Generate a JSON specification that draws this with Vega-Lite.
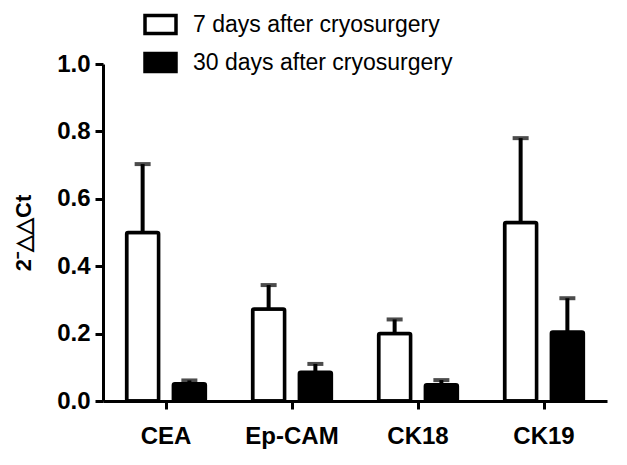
{
  "$schema": "https://vega.github.io/schema/vega-lite/v6.json",
  "width": 504,
  "height": 337,
  "autosize": {"type": "none"},
  "padding": {"left": 103, "top": 64, "right": 20, "bottom": 64},
  "background": "white",
  "config": {"view": {"stroke": null}, "font": "Liberation Sans"},
  "data": {
    "values": [
      {"marker": "CEA", "group": "7 days after cryosurgery", "value": 0.50, "upper": 0.703},
      {"marker": "CEA", "group": "30 days after cryosurgery", "value": 0.051, "upper": 0.061},
      {"marker": "Ep-CAM", "group": "7 days after cryosurgery", "value": 0.273, "upper": 0.344},
      {"marker": "Ep-CAM", "group": "30 days after cryosurgery", "value": 0.085, "upper": 0.11},
      {"marker": "CK18", "group": "7 days after cryosurgery", "value": 0.20, "upper": 0.242},
      {"marker": "CK18", "group": "30 days after cryosurgery", "value": 0.048, "upper": 0.062},
      {"marker": "CK19", "group": "7 days after cryosurgery", "value": 0.53, "upper": 0.78},
      {"marker": "CK19", "group": "30 days after cryosurgery", "value": 0.205, "upper": 0.305}
    ]
  },
  "encoding": {
    "x": {
      "field": "marker", "type": "nominal",
      "sort": ["CEA", "Ep-CAM", "CK18", "CK19"],
      "scale": {"paddingInner": 0.375, "paddingOuter": 0.1875},
      "axis": {
        "title": null, "labelAngle": 0, "domainWidth": 3, "domainColor": "black",
        "tickWidth": 3, "tickColor": "black", "tickSize": 8,
        "labelFontSize": 24, "labelFontWeight": "bold", "labelColor": "black",
        "labelPadding": 15
      }
    },
    "xOffset": {
      "field": "group", "type": "nominal",
      "sort": ["7 days after cryosurgery", "30 days after cryosurgery"],
      "scale": {"paddingInner": 0.315, "paddingOuter": 0}
    }
  },
  "layer": [
    {
      "mark": {"type": "bar", "stroke": "black", "strokeWidth": 3.5, "strokeJoin": "round", "cornerRadius": 1.5},
      "encoding": {
        "y": {
          "field": "value", "type": "quantitative", "title": "2⁻△△Ct",
          "scale": {"domain": [0, 1]},
          "axis": {
            "values": [0, 0.2, 0.4, 0.6, 0.8, 1.0], "format": ".1f", "grid": false,
            "domainWidth": 3, "domainColor": "black", "tickWidth": 3, "tickColor": "black",
            "tickSize": 8, "labelFontSize": 24, "labelFontWeight": "bold", "labelColor": "black",
            "labelPadding": 5, "titleFontSize": 22, "titleFontWeight": "bold", "titleColor": "black",
            "titlePadding": 21
          }
        },
        "fill": {
          "field": "group", "type": "nominal",
          "scale": {"domain": ["7 days after cryosurgery", "30 days after cryosurgery"], "range": ["white", "black"]},
          "legend": {
            "orient": "none", "legendX": 40, "legendY": -57, "title": null,
            "symbolType": "M-1,-0.58H1V0.58H-1Z", "symbolSize": 961,
            "symbolStrokeColor": "black", "symbolStrokeWidth": 3.5,
            "labelFontSize": 23, "labelFont": "Liberation Sans", "labelColor": "black",
            "labelOffset": 15, "rowPadding": 4, "labelLimit": 0, "padding": 0
          }
        }
      }
    },
    {
      "mark": {"type": "rule", "strokeWidth": 4, "color": "black"},
      "encoding": {
        "y": {"field": "value", "type": "quantitative", "title": "2⁻△△Ct"},
        "y2": {"field": "upper"}
      }
    },
    {
      "mark": {"type": "tick", "color": "black", "thickness": 4, "size": 16},
      "encoding": {
        "y": {"field": "upper", "type": "quantitative", "title": "2⁻△△Ct"}
      }
    }
  ]
}
